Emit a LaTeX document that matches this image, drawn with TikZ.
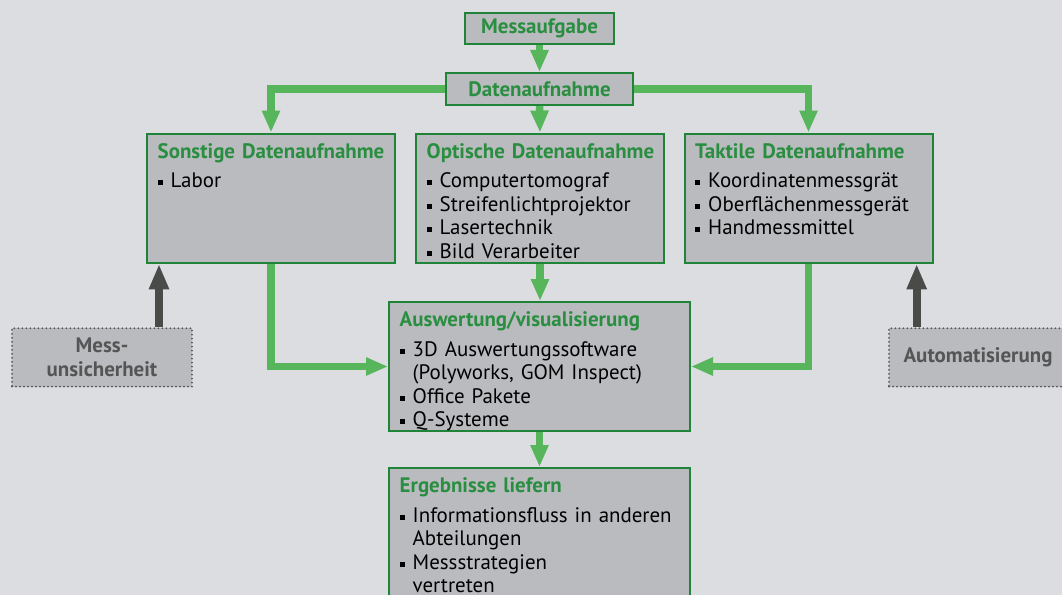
\documentclass[tikz,border=0pt]{standalone}
\usepackage{fontspec}
\setmainfont{PT Sans}
\usetikzlibrary{arrows.meta,positioning,calc}

\definecolor{bgGray}{HTML}{DCDDE0}
\definecolor{boxGray}{HTML}{B9BBBF}
\definecolor{boxGreen}{HTML}{1F8438}
\definecolor{headGreen}{HTML}{2A8E40}
\definecolor{arrGreen}{HTML}{57B55B}
\definecolor{darkArr}{HTML}{4A4B48}
\definecolor{dotGray}{HTML}{555555}

% bullet item with hanging indent
\newcommand{\bul}[1]{\hangindent=9.75pt\hangafter=1\noindent
  \makebox[9.75pt][l]{\rule[1.9pt]{3.75pt}{3.75pt}}#1\par}
\newcommand{\head}[1]{{\bfseries\color{headGreen}#1}\par\vspace{4.4pt}}

\begin{document}
\begin{tikzpicture}[
  x=0.75pt, y=-0.75pt,
  font=\fontsize{15.7pt}{17.6pt}\selectfont,
  box/.style={rectangle, draw=boxGreen, line width=1.5pt, fill=boxGray,
              inner sep=0pt},
  txt/.style={anchor=north west, inner xsep=8.6pt, inner ysep=8pt,
              align=left, text=black},
  dotbox/.style={rectangle, draw=dotGray, fill=boxGray, line width=1.5pt,
                 line cap=round, dash pattern=on 0pt off 3pt, text=dotGray,
                 align=center, inner sep=0pt, minimum height=43.8pt},
  garr/.style={draw=arrGreen, line width=5.6pt,
               -{Triangle[length=16.5pt,width=12.75pt]}},
  darr/.style={draw=darkArr, line width=6pt,
               -{Triangle[length=19pt,width=14pt]}}
]
  \useasboundingbox (0,0) rectangle (1062,595);
  \fill[bgGray] (0,0) rectangle (1062,595);

  % top row
  \node[box, minimum width=111.75pt, minimum height=23.25pt, text=headGreen]
    (mess) at (539.5,28.5) {\bfseries Messaufgabe};
  \node[box, minimum width=140.25pt, minimum height=24pt, text=headGreen]
    (daten) at (539.5,89) {\bfseries Datenaufnahme};

  % three acquisition boxes
  \node[box, minimum width=186pt, minimum height=97.1pt] (sonst) at (271,198.25) {};
  \node[box, minimum width=186pt, minimum height=97.1pt] (opt) at (540,198.25) {};
  \node[box, minimum width=186pt, minimum height=97.1pt] (takt) at (808.5,198.25) {};
  \node[txt, text width=172pt] (sonstT) at (sonst.north west)
    {\head{Sonstige Datenaufnahme}\bul{Labor}};
  \node[txt, text width=172pt] (optT) at (opt.north west)
    {\head{Optische Datenaufnahme}\bul{Computertomograf}\bul{Streifenlichtprojektor}%
     \bul{Lasertechnik}\bul{Bild Verarbeiter}};
  \node[txt, text width=172pt] (taktT) at (takt.north west)
    {\head{Taktile Datenaufnahme}\bul{Koordinatenmessgrät}\bul{Oberflächenmessgerät}%
     \bul{Handmessmittel}};

  % evaluation and results
  \node[box, minimum width=225.75pt, minimum height=96.75pt] (ausw) at (539.5,366.5) {};
  \node[txt, text width=212pt] (auswT) at (ausw.north west)
    {\head{Auswertung/visualisierung}\bul{3D Auswertungssoftware\newline (Polyworks, GOM Inspect)}%
     \bul{Office Pakete}\bul{Q-Systeme}};
  \node[box, minimum width=225.75pt, minimum height=114pt] (erg) at (539.5,544) {};
  \node[txt, text width=212pt] (ergT) at (erg.north west)
    {\head{Ergebnisse liefern}\bul{Informationsfluss in anderen\newline Abteilungen}%
     \bul{Messstrategien\newline vertreten}};

  % side influences
  \node[dotbox, minimum width=135pt] (unsich) at (102,357.5) {\bfseries Mess-\\\bfseries unsicherheit};
  \node[dotbox, minimum width=133.5pt] (auto) at (978,357.5) {\bfseries Automatisierung};

  % connectors
  \draw[garr] (mess.south) -- (daten.north);
  \draw[garr] (daten.west) -| (sonst.north);
  \draw[garr] (daten.south) -- (opt.north);
  \draw[garr] (daten.east) -| (takt.north);
  \draw[garr] (sonst.south) |- (ausw.west);
  \draw[garr] (opt.south) -- (opt.south |- ausw.north);
  \draw[garr] (takt.south) |- (ausw.east);
  \draw[garr] (ausw.south) -- (erg.north);
  \draw[darr] ([xshift=111pt]unsich.north west) -- ([xshift=111pt]unsich.north west |- sonst.south);
  \draw[darr] ([xshift=21.5pt]auto.north west) -- ([xshift=21.5pt]auto.north west |- takt.south);
\end{tikzpicture}
\end{document}
